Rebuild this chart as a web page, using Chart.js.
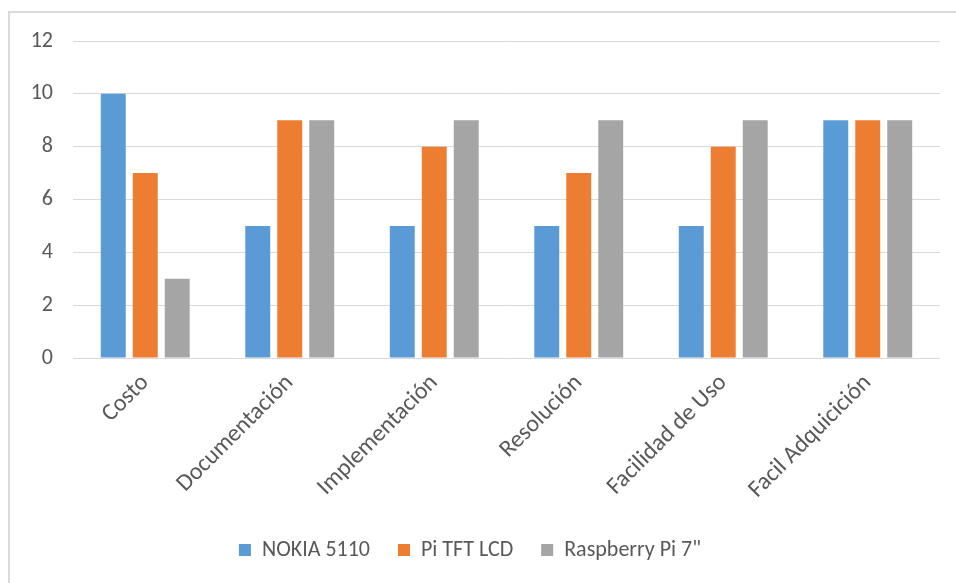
<!DOCTYPE html>
<html>
<head>
<meta charset="utf-8">
<script src="https://cdn.jsdelivr.net/npm/chart.js@4.4.1/dist/chart.umd.min.js"></script>
<style>
  html, body { margin: 0; padding: 0; background: #fff; }
  #wrap { position: relative; width: 956px; height: 583px; }
  #frame { position: absolute; left: 8px; top: 11px; right: 0; bottom: 0;
           border-left: 2px solid #d9d9d9; border-top: 2px solid #d9d9d9; }
  canvas { position: absolute; left: 0; top: 0; }
</style>
</head>
<body>
<div id="wrap">
  <div id="frame"></div>
  <canvas id="c" width="956" height="583"></canvas>
</div>
<script>
const categories = ["Costo", "Documentación", "Implementación", "Resolución", "Facilidad de Uso", "Facil Adquicición"];
const nokia5110 = [10, 5, 5, 5, 5, 9];
const piTftLcd = [7, 9, 8, 7, 8, 9];
const raspberryPi7 = [3, 9, 9, 9, 9, 9];
const seriesNames = ["NOKIA 5110", "Pi TFT LCD", "Raspberry Pi 7\""];
const yTicks = { min: 0, max: 12, step: 2 };

const FONT = "Carlito, Lato, 'Open Sans', sans-serif";
const TEXT = "#595959";

new Chart(document.getElementById("c"), {
  type: "bar",
  data: {
    labels: categories,
    datasets: [
      { label: seriesNames[0], data: nokia5110, backgroundColor: "#5B9BD5" },
      { label: seriesNames[1], data: piTftLcd, backgroundColor: "#ED7D31" },
      { label: seriesNames[2], data: raspberryPi7, backgroundColor: "#A5A5A5" }
    ]
  },
  options: {
    responsive: false,
    animation: false,
    devicePixelRatio: 1,
    categoryPercentage: 0.664,
    barPercentage: 0.78,
    layout: { padding: { top: 41, right: 16, left: 0, bottom: 12 } },
    plugins: {
      tooltip: { enabled: false },
      legend: {
        position: "bottom",
        labels: {
          font: { family: FONT, size: 22 },
          color: TEXT,
          boxWidth: 12,
          boxHeight: 12,
          padding: 28
        }
      }
    },
    scales: {
      y: {
        min: yTicks.min,
        max: yTicks.max,
        ticks: { stepSize: yTicks.step, font: { family: FONT, size: 22 }, color: TEXT, padding: 20 },
        grid: { color: "#d9d9d9", lineWidth: 1, drawTicks: false },
        border: { display: false },
        afterFit: (s) => { s.width = 73; }
      },
      x: {
        ticks: { font: { family: FONT, size: 24 }, color: TEXT, minRotation: 45, maxRotation: 45, padding: 11 },
        grid: { display: false, drawTicks: false },
        border: { display: false },
        afterFit: (s) => { s.height = 153; }
      }
    }
  }
});
</script>
</body>
</html>
